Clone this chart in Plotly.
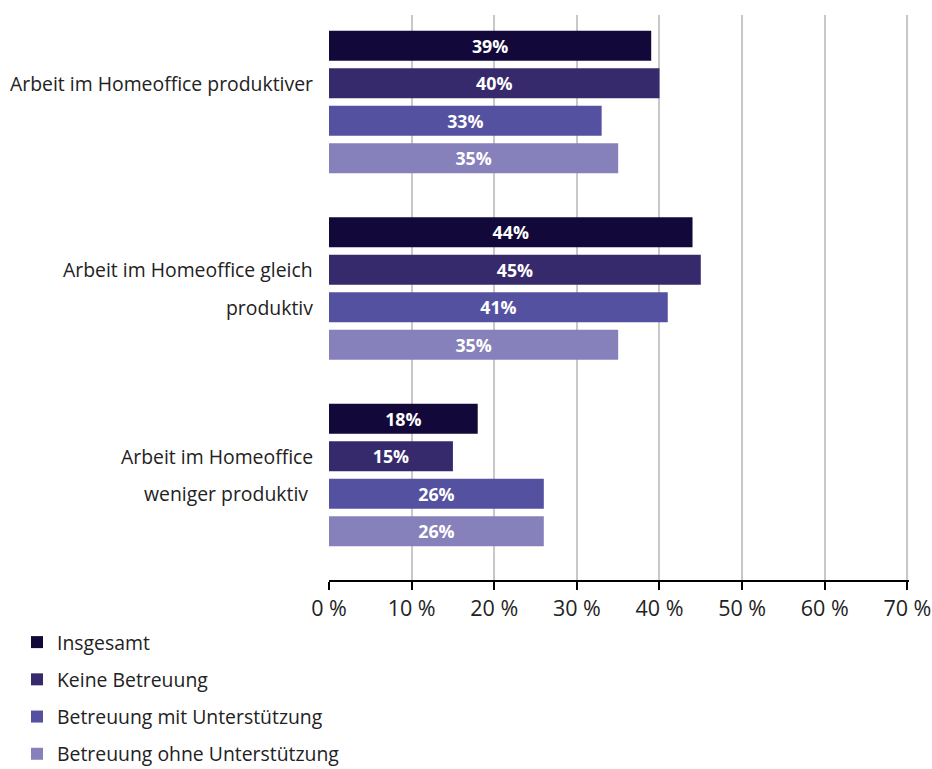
import plotly.graph_objects as go

categories = ["Arbeit im Homeoffice produktiver",
              "Arbeit im Homeoffice gleich produktiv",
              "Arbeit im Homeoffice weniger produktiv "]
label_lines = [["Arbeit im Homeoffice produktiver", ""],
               ["Arbeit im Homeoffice gleich", "produktiv"],
               ["Arbeit im Homeoffice", "weniger produktiv "]]
series_names = ["Insgesamt", "Keine Betreuung",
                "Betreuung mit Unterstützung", "Betreuung ohne Unterstützung"]
series_values = {
    "Insgesamt": [39, 44, 18],
    "Keine Betreuung": [40, 45, 15],
    "Betreuung mit Unterstützung": [33, 41, 26],
    "Betreuung ohne Unterstützung": [35, 35, 26],
}
colors = ["#12093a", "#372a6c", "#5551a1", "#8781bb"]
tick_vals = [0, 10, 20, 30, 40, 50, 60, 70]
tick_text = ["0 %", "10 %", "20 %", "30 %", "40 %", "50 %", "60 %", "70 %"]

FONT = "Open Sans"
GRID = "#c8c8c8"
fig = go.Figure()
for i, name in enumerate(series_names):
    vals = series_values[name]
    fig.add_trace(go.Bar(
        y=categories, x=vals, name=name, orientation="h",
        marker=dict(color=colors[i], line=dict(width=0)),
        text=[f"{v}%" for v in vals], textposition="inside",
        insidetextanchor="middle",
        textfont=dict(family=FONT, size=21.5, color="white", weight="bold"),
        legendgroup=name, hoverinfo="skip",
    ))

annotations = []
for ci, lines in enumerate(label_lines):
    for li, line in enumerate(lines):
        if not line:
            continue
        annotations.append(dict(
            x=0, xref="paper", xanchor="right", xshift=-14,
            y=ci, yref="y", yanchor="middle",
            yshift=18.75 - 37.5 * li,
            text=line, showarrow=False,
            font=dict(family=FONT, size=19.4, color="#222222"),
        ))

# gridline at the last tick (plotly drops gridlines at the range edge)
fig.add_shape(type="line", xref="x", yref="paper",
              x0=tick_vals[-1], x1=tick_vals[-1], y0=0, y1=1,
              line=dict(color=GRID, width=1.5), layer="below")

fig.update_layout(
    width=932, height=769,
    margin=dict(l=329, r=23.35, t=15, b=189, autoexpand=False),
    paper_bgcolor="white", plot_bgcolor="white",
    barmode="group", bargap=0.196, bargroupgap=0.2,
    uniformtext=dict(mode="show", minsize=10),
    font=dict(family=FONT, size=19.4, color="#222222"),
    annotations=annotations,
    showlegend=True,
    legend=dict(
        xref="container", yref="container",
        x=17 / 932, xanchor="left", y=1 - 623 / 769, yanchor="top",
        orientation="v", traceorder="grouped",
        tracegroupgap=9, font=dict(family=FONT, size=19.4, color="#222222"),
        bgcolor="rgba(0,0,0,0)",
    ),
    xaxis=dict(
        range=[0, 70.2], tickvals=tick_vals, ticktext=tick_text,
        showgrid=True, gridcolor=GRID, gridwidth=1.5,
        showline=True, linecolor="black", linewidth=1.5,
        ticks="outside", ticklen=8, tickcolor="black", tickwidth=1.5,
        tickfont=dict(family=FONT, size=21.5, color="#222222"),
        ticklabeloverflow="allow", automargin=False,
        zeroline=False, fixedrange=True,
    ),
    yaxis=dict(
        type="category", range=[2.563, -0.4665],
        showticklabels=False, showgrid=False, showline=False,
        zeroline=False, ticks="", fixedrange=True, automargin=False,
    ),
)

fig.write_html("out.html")
